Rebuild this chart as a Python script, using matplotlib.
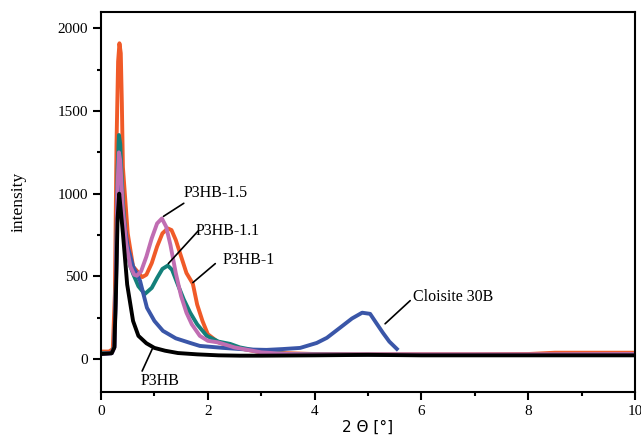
import matplotlib
matplotlib.use("Agg")
import matplotlib.pyplot as plt

# --- data ---
x_p3hb1 = [0, 0.15, 0.22, 0.26, 0.29, 0.32, 0.345, 0.37, 0.39, 0.41, 0.5, 0.6, 0.77, 0.85, 0.95, 1.05, 1.15,
           1.25, 1.32, 1.4, 1.5, 1.6, 1.72, 1.8, 1.9, 2.0, 2.2, 2.5, 3.0, 4.0, 5.0, 6.0, 7.0, 8.0, 8.5, 10]
y_p3hb1 = [45, 45, 60, 400, 1300, 1800, 1910, 1850, 1550, 1160, 760, 560, 495, 510, 580, 680, 760,
           790, 780, 720, 620, 520, 455, 330, 230, 150, 100, 70, 40, 30, 28, 28, 28, 30, 38, 38]

x_p3hb11 = [0, 0.2, 0.25, 0.28, 0.31, 0.335, 0.36, 0.38, 0.41, 0.47, 0.55, 0.6, 0.7, 0.82, 0.95, 1.05, 1.15,
            1.25, 1.33, 1.45, 1.55, 1.67, 1.8, 1.98, 2.2, 2.42, 2.6, 3.0, 3.5, 4, 6, 8, 10]
y_p3hb11 = [35, 35, 80, 500, 1150, 1355, 1300, 1150, 950, 700, 560, 516, 440, 393, 430, 490, 545,
            565, 540, 440, 360, 280, 210, 140, 105, 91, 70, 45, 30, 28, 25, 25, 27]

x_p3hb15 = [0, 0.2, 0.25, 0.28, 0.31, 0.335, 0.36, 0.38, 0.41, 0.47, 0.55, 0.62, 0.67, 0.75, 0.85, 0.95, 1.05,
            1.14, 1.22, 1.3, 1.4, 1.5, 1.6, 1.7, 1.85, 2.0, 2.2, 2.5, 3.0, 3.5, 4, 6, 8, 10]
y_p3hb15 = [30, 35, 70, 450, 1050, 1250, 1200, 1080, 900, 700, 560, 510, 504, 530, 620, 730, 820,
            850, 800, 690, 520, 380, 280, 210, 140, 110, 100, 70, 40, 30, 28, 28, 28, 30]

x_cloisite = [0, 0.2, 0.25, 0.28, 0.31, 0.34, 0.37, 0.42, 0.5, 0.6, 0.73, 0.86, 1.0, 1.16, 1.4, 1.67,
              1.85, 2.29, 2.7, 3.1, 3.4, 3.73, 4.04, 4.23, 4.48, 4.7, 4.89, 5.04, 5.15, 5.28, 5.4, 5.54]
y_cloisite = [30, 35, 70, 450, 1000, 1150, 1050, 850, 680, 560, 474, 310, 230, 170, 125, 97,
              79, 67, 58, 55, 60, 67, 97, 128, 190, 245, 280, 273, 220, 158, 105, 61]

x_p3hb = [0, 0.2, 0.25, 0.28, 0.31, 0.34, 0.37, 0.41, 0.49, 0.6, 0.7, 0.85, 1.0, 1.2, 1.44,
          1.8, 2.2, 2.6, 3, 4, 5, 6, 8, 10]
y_p3hb = [30, 35, 70, 400, 850, 1000, 900, 760, 450, 230, 140, 95, 67, 50, 36,
          28, 22, 20, 20, 22, 25, 22, 22, 22]

plt.rcParams['font.family'] = ['Liberation Serif', 'DejaVu Serif']

fig = plt.figure(figsize=(6.41, 4.40), dpi=100)
ax = fig.add_axes([0.1576, 0.109, 0.833, 0.864])

lw = 2.8
ax.plot(x_p3hb1, y_p3hb1, color='#f05a28', lw=lw)
ax.plot(x_p3hb11, y_p3hb11, color='#13807a', lw=lw)
ax.plot(x_cloisite, y_cloisite, color='#3a56a8', lw=lw)
ax.plot(x_p3hb15, y_p3hb15, color='#c06db2', lw=lw)
ax.plot(x_p3hb, y_p3hb, color='black', lw=lw)

ax.set_xlim(0, 10)
ax.set_ylim(-200, 2100)
ax.set_xticks([0, 2, 4, 6, 8, 10])
ax.set_xticks([1, 3, 5, 7, 9], minor=True)
ax.set_yticks([0, 500, 1000, 1500, 2000])
ax.set_yticks([250, 750, 1250, 1750], minor=True)
ax.tick_params(direction='out', length=6, width=1.5, labelsize=11)
ax.tick_params(which='minor', direction='out', length=3, width=1.5)
for s in ax.spines.values():
    s.set_linewidth(1.5)

ax.set_xlabel('2 \u0398 [\u00b0]', fontsize=11, family='DejaVu Sans', labelpad=1)
ax.set_ylabel('intensity', fontsize=12.5, labelpad=22)

# labels with leader lines
labels = [
    ('P3HB-1.5', (1.17, 863), (1.55, 942), (1.55, 1002)),
    ('P3HB-1.1', (1.26, 577), (1.82, 775), (1.78, 772)),
    ('P3HB-1', (1.72, 462), (2.14, 577), (2.27, 601)),
    ('P3HB', (0.96, 61), (0.77, -73), (0.75, -134)),
    ('Cloisite 30B', (5.32, 213), (5.79, 353), (5.84, 377)),
]
for txt, p0, p1, tp in labels:
    ax.annotate('', xy=p0, xytext=p1,
                arrowprops=dict(arrowstyle='-', color='black', lw=1.2, shrinkA=0, shrinkB=0))
    ax.text(tp[0], tp[1], txt, fontsize=11.5, ha='left', va='center')

fig.savefig('out.png', dpi=100)
